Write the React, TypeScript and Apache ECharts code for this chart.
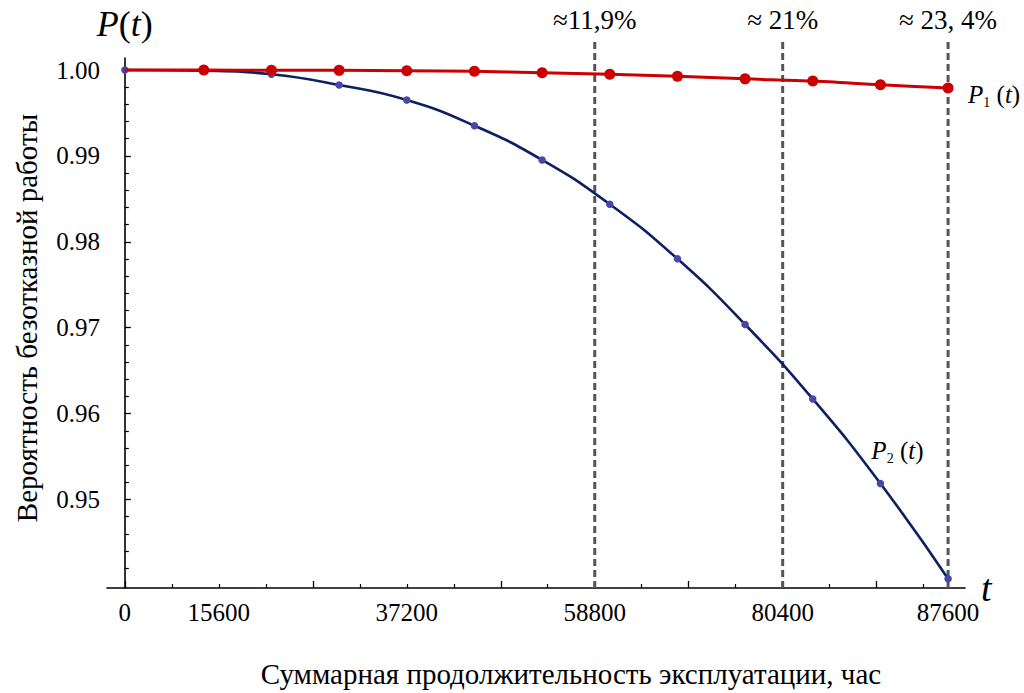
import React, { useEffect, useRef } from "react";
import * as echarts from "echarts";

// ---- data ----
const hours = [0, 8400, 15600, 22800, 30000, 37200, 44400, 51600, 58800, 66000, 73200, 80400, 87600];
const p1 = [1.0, 0.99999, 0.99998, 0.99996, 0.99992, 0.99985, 0.99969, 0.9995, 0.99927, 0.99897, 0.99871, 0.99828, 0.99791];
const p2 = [1.0, 0.99992, 0.9995, 0.99826, 0.99651, 0.99352, 0.98953, 0.98438, 0.97802, 0.97038, 0.96171, 0.95186, 0.94078];

const xLabelValues = [0, 10000, 30000, 50000, 70000, 87600];
const xLabelTexts = ["0", "15600", "37200", "58800", "80400", "87600"];
const xMajorTicks = [0, 20000, 40000, 60000, 80000];
const xMinorTicks = [5000, 10000, 15000, 25000, 30000, 35000, 45000, 50000, 55000, 65000, 70000, 75000, 85000];
const yMajorTicks = [0.95, 0.96, 0.97, 0.98, 0.99, 1.0];
const yMinorTicks = [
  0.942, 0.944, 0.946, 0.948, 0.952, 0.954, 0.956, 0.958, 0.962, 0.964, 0.966, 0.968,
  0.972, 0.974, 0.976, 0.978, 0.982, 0.984, 0.986, 0.988, 0.992, 0.994, 0.996, 0.998,
];
const markerHours = [50000, 70000, 87600];
const markerTexts = ["≈11,9%", "≈ 21%", "≈ 23, 4%"];

const X_MIN = -1900;
const X_MAX = 89400;
const Y_MIN = 0.9397;
const Y_MAX = 1.0014;
const Y_MARK_TOP = 1.0034;

const FONT = '"Liberation Serif", "Times New Roman", serif';
const RED = "#cc0000";
const NAVY = "#0b1f63";
const DOT = "#4a46a8";

const richBase = {
  i: { fontFamily: FONT, fontSize: 25, fontStyle: "italic" as const, color: "#000", lineHeight: 30 },
  n: { fontFamily: FONT, fontSize: 25, color: "#000", lineHeight: 30 },
  s: { fontFamily: FONT, fontSize: 14, color: "#000", lineHeight: 14, verticalAlign: "bottom" as const },
};

export default function App() {
  const ref = useRef<HTMLDivElement>(null);

  useEffect(() => {
    if (!ref.current) return;
    const chart = echarts.init(ref.current, null, { renderer: "svg" });

    const p2Data = hours.map((h, i) =>
      i === 11
        ? {
            value: [h, p2[i]],
            label: {
              show: true,
              position: "top",
              distance: 14,
              offset: [17, 0],
              formatter: "{i|P}{s|2}{n| (}{i|t}{n|)}",
              rich: richBase,
            },
          }
        : { value: [h, p2[i]] }
    );
    const p1Data = hours.map((h, i) => (i === 0 ? { value: [h, p1[i]], symbolSize: 0 } : { value: [h, p1[i]] }));

    const markerSeries = markerHours.map((h, i) => ({
      name: "marker" + i,
      type: "line",
      xAxisIndex: 0,
      yAxisIndex: 0,
      clip: false,
      silent: true,
      symbol: "circle",
      symbolSize: 0,
      z: 2,
      lineStyle: { color: "#555555", width: 3, type: [7, 4] },
      itemStyle: { color: "#555555" },
      data: [
        { value: [h, Y_MIN] },
        {
          value: [h, Y_MARK_TOP],
          label: {
            show: true,
            position: "top",
            distance: 7,
            formatter: markerTexts[i],
            fontFamily: FONT,
            fontSize: 27,
            color: "#000",
          },
        },
      ],
    }));

    chart.setOption({
      animation: false,
      backgroundColor: "#fff",
      grid: { left: 107, right: 59, top: 58, bottom: 105, containLabel: false, outerBoundsMode: "none" },
      xAxis: [
        {
          type: "value",
          position: "bottom",
          min: X_MIN,
          max: X_MAX,
          splitLine: { show: false },
          axisLine: { show: true, onZero: false, lineStyle: { color: "#000", width: 1.6 } },
          axisTick: { show: true, inside: true, length: 7, customValues: xMajorTicks, lineStyle: { color: "#000", width: 1.3 } },
          axisLabel: {
            show: true,
            customValues: xLabelValues,
            margin: 12,
            fontFamily: FONT,
            fontSize: 25,
            color: "#000",
            formatter: (v: number) => {
              const k = xLabelValues.indexOf(v);
              return k >= 0 ? xLabelTexts[k] : "";
            },
          },
          name: "t",
          nameLocation: "end",
          nameGap: 16,
          nameMoveOverlap: false,
          nameTextStyle: { fontFamily: FONT, fontSize: 38, fontStyle: "italic", color: "#000", verticalAlign: "middle", padding: [6, 0, 0, 0] },
        },
        {
          type: "value",
          position: "bottom",
          min: X_MIN,
          max: X_MAX,
          splitLine: { show: false },
          axisLine: { show: false, onZero: false },
          axisTick: { show: true, inside: true, length: 4, customValues: xMinorTicks, lineStyle: { color: "#000", width: 1.2 } },
          axisLabel: { show: false },
        },
      ],
      yAxis: [
        {
          type: "value",
          position: "left",
          min: Y_MIN,
          max: Y_MAX,
          splitLine: { show: false },
          axisLine: { show: true, onZero: true, lineStyle: { color: "#000", width: 1.6 } },
          axisTick: { show: true, inside: true, length: 6, customValues: yMajorTicks, lineStyle: { color: "#000", width: 1.3 } },
          axisLabel: {
            show: true,
            customValues: yMajorTicks,
            margin: 7,
            fontFamily: FONT,
            fontSize: 25,
            color: "#000",
            formatter: (v: number) => v.toFixed(2),
          },
          name: "{i|P}{n|(}{i|t}{n|)}",
          nameLocation: "end",
          nameGap: 16,
          nameMoveOverlap: false,
          nameTextStyle: {
            rich: {
              i: { fontFamily: FONT, fontSize: 36, fontStyle: "italic", color: "#000" },
              n: { fontFamily: FONT, fontSize: 36, color: "#000" },
            },
          },
        },
        {
          type: "value",
          position: "left",
          min: Y_MIN,
          max: Y_MAX,
          splitLine: { show: false },
          axisLine: { show: false, onZero: true },
          axisTick: { show: true, inside: true, length: 4, customValues: yMinorTicks, lineStyle: { color: "#000", width: 1.2 } },
          axisLabel: { show: false },
        },
      ],
      graphic: [
        {
          type: "text",
          x: 571,
          y: 674,
          style: {
            text: "Суммарная продолжительность эксплуатации, час",
            font: `29px ${FONT}`,
            fill: "#000",
            textAlign: "center",
            textVerticalAlign: "middle",
            align: "center",
            verticalAlign: "middle",
          },
        },
        {
          type: "text",
          x: 27,
          y: 318,
          rotation: Math.PI / 2,
          style: {
            text: "Вероятность безотказной работы",
            font: `29px ${FONT}`,
            fill: "#000",
            textAlign: "center",
            textVerticalAlign: "middle",
            align: "center",
            verticalAlign: "middle",
          },
        },
      ],
      series: [
        ...markerSeries,
        {
          name: "P2",
          type: "line",
          xAxisIndex: 0,
          yAxisIndex: 0,
          data: p2Data,
          smooth: 0.5,
          symbol: "circle",
          symbolSize: 7.5,
          lineStyle: { color: NAVY, width: 2.6 },
          itemStyle: { color: DOT },
          z: 3,
        },
        {
          name: "P1",
          type: "line",
          xAxisIndex: 0,
          yAxisIndex: 0,
          data: p1Data,
          smooth: 0.3,
          symbol: "circle",
          symbolSize: 11,
          lineStyle: { color: RED, width: 3 },
          itemStyle: { color: RED },
          z: 4,
          endLabel: {
            show: true,
            distance: 20,
            offset: [0, 7],
            formatter: "{i|P}{s|1}{n| (}{i|t}{n|)}",
            rich: richBase,
          },
        },
      ],
    });

    return () => chart.dispose();
  }, []);

  return <div ref={ref} style={{ position: "fixed", left: 0, top: 0, width: 1024, height: 693 }} />;
}
